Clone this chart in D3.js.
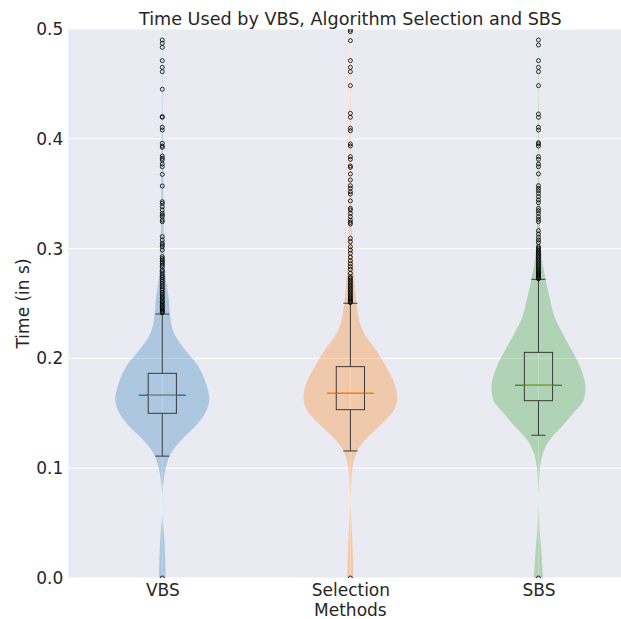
<!DOCTYPE html>
<html>
<head>
<meta charset="utf-8">
<script src="https://cdn.jsdelivr.net/npm/d3@7"></script>
<style>
  body { margin: 0; background: #fff; }
  text { font-family: "DejaVu Sans", sans-serif; fill: #262626; }
</style>
</head>
<body>
<div class="chart"></div>
<script>
// Data
//= ================================
var methods = ["VBS", "Selection", "SBS"];
var colors = ["#1f77b4", "#ff7f0e", "#2ca02c"];
var yTicks = [0.0, 0.1, 0.2, 0.3, 0.4, 0.5];

// box plot stats per method
var q1 = [0.150, 0.1533, 0.1615];
var medians = [0.1664, 0.1682, 0.1755];
var q3 = [0.1864, 0.1925, 0.2055];
var whiskerLo = [0.111, 0.1157, 0.130];
var whiskerHi = [0.2404, 0.2502, 0.272];

// violin outline: value -> relative half width
var vbsDensV = [0.000, 0.019, 0.041, 0.059, 0.077, 0.089, 0.101, 0.114, 0.126, 0.138, 0.150, 0.163, 0.177, 0.193, 0.208, 0.223, 0.241, 0.253, 0.262, 0.274, 0.299, 0.320, 0.360, 0.420, 0.500];
var vbsDensW = [0.07, 0.06, 0.035, 0.004, 0.005, 0.03, 0.08, 0.19, 0.41, 0.70, 0.91, 1.00, 0.93, 0.76, 0.48, 0.25, 0.16, 0.14, 0.11, 0.07, 0.04, 0.028, 0.02, 0.011, 0.005];
var selDensV = [0.000, 0.029, 0.053, 0.071, 0.092, 0.105, 0.117, 0.129, 0.141, 0.153, 0.165, 0.177, 0.193, 0.208, 0.223, 0.238, 0.250, 0.274, 0.299, 0.330, 0.380, 0.450, 0.500];
var selDensW = [0.064, 0.047, 0.018, 0.006, 0.025, 0.065, 0.16, 0.39, 0.68, 0.93, 1.00, 0.94, 0.75, 0.54, 0.29, 0.17, 0.13, 0.08, 0.04, 0.025, 0.015, 0.008, 0.004];
var sbsDensV = [0.000, 0.023, 0.047, 0.071, 0.086, 0.101, 0.114, 0.126, 0.138, 0.150, 0.162, 0.173, 0.193, 0.208, 0.223, 0.238, 0.253, 0.272, 0.296, 0.326, 0.380, 0.450, 0.500];
var sbsDensW = [0.096, 0.064, 0.02, 0.004, 0.01, 0.035, 0.10, 0.24, 0.50, 0.74, 0.96, 1.00, 0.88, 0.70, 0.51, 0.34, 0.25, 0.15, 0.06, 0.028, 0.015, 0.008, 0.004];

// fliers
var vbsOut = [0, 0.2415, 0.2422, 0.2431, 0.2440, 0.2452, 0.2463, 0.2470, 0.2484, 0.2495, 0.2508, 0.2517, 0.2531, 0.2546, 0.2558, 0.2570, 0.2587, 0.2601, 0.2618, 0.2633, 0.2652, 0.2668, 0.2685, 0.2702, 0.2718, 0.2735, 0.2749, 0.2768, 0.2790, 0.2805, 0.2835, 0.2849, 0.2866, 0.2880, 0.2896, 0.2910, 0.2926, 0.2987, 0.3017, 0.3033, 0.3048, 0.3078, 0.3109, 0.3245, 0.3260, 0.3291, 0.3305, 0.3321, 0.3352, 0.3382, 0.3412, 0.3427, 0.357, 0.3676, 0.3746, 0.377, 0.3807, 0.3822, 0.3843, 0.3922, 0.3934, 0.3959, 0.408, 0.4105, 0.4196, 0.4202, 0.4451, 0.4611, 0.4651, 0.4712, 0.4833, 0.487, 0.49];
var selOut = [0, 0.2508, 0.2515, 0.2524, 0.2533, 0.2545, 0.2556, 0.2568, 0.2580, 0.2594, 0.2605, 0.2619, 0.2632, 0.2646, 0.2660, 0.2672, 0.2688, 0.2700, 0.2716, 0.2730, 0.2744, 0.2775, 0.2811, 0.2835, 0.2862, 0.289, 0.2921, 0.2957, 0.2987, 0.3017, 0.3063, 0.3093, 0.3224, 0.3239, 0.326, 0.3291, 0.3321, 0.3352, 0.3367, 0.3434, 0.3497, 0.3518, 0.3549, 0.3573, 0.3625, 0.368, 0.374, 0.3752, 0.3813, 0.3837, 0.3934, 0.3953, 0.4074, 0.4096, 0.4196, 0.4232, 0.4484, 0.4611, 0.4651, 0.4712, 0.4894, 0.4976, 0.4991];
var sbsOut = [0, 0.2725, 0.2731, 0.2738, 0.2746, 0.2755, 0.2763, 0.2772, 0.2781, 0.2790, 0.2800, 0.2811, 0.2822, 0.2835, 0.2848, 0.2860, 0.2873, 0.2887, 0.2900, 0.2914, 0.2927, 0.2940, 0.2953, 0.2965, 0.2978, 0.2990, 0.3003, 0.3017, 0.3054, 0.3078, 0.3103, 0.3133, 0.3163, 0.3245, 0.3266, 0.3291, 0.3321, 0.3345, 0.3367, 0.3418, 0.3443, 0.3473, 0.3503, 0.3528, 0.3549, 0.3573, 0.368, 0.3746, 0.377, 0.3813, 0.3837, 0.3934, 0.3953, 0.3965, 0.408, 0.4105, 0.4196, 0.4226, 0.4484, 0.4611, 0.4651, 0.4712, 0.4854, 0.49];

var densV = [vbsDensV, selDensV, sbsDensV];
var densW = [vbsDensW, selDensW, sbsDensW];
var fliers = [vbsOut, selOut, sbsOut];

// Set up the chart
//= ================================
var svgWidth = 621;
var svgHeight = 619;

var plotLeft = 68.25;
var plotRight = 632.5; // axes run past the right edge of the picture
var plotTop = 29;
var plotBottom = 578;

var svg = d3
  .select(".chart")
  .append("svg")
  .attr("width", svgWidth)
  .attr("height", svgHeight);

var xScale = d3.scaleLinear().domain([0.5, 3.5]).range([plotLeft, plotRight]);
var yScale = d3.scaleLinear().domain([0, 0.5]).range([plotBottom, plotTop]);

svg.append("defs")
  .append("clipPath")
  .attr("id", "plot-clip")
  .append("rect")
  .attr("x", plotLeft)
  .attr("y", plotTop)
  .attr("width", plotRight - plotLeft)
  .attr("height", plotBottom - plotTop);

// background + grid
svg.append("rect")
  .attr("x", plotLeft)
  .attr("y", plotTop)
  .attr("width", plotRight - plotLeft)
  .attr("height", plotBottom - plotTop)
  .attr("fill", "#eaeaf2");

var grid = svg.append("g").attr("clip-path", "url(#plot-clip)");
grid.selectAll("line.h")
  .data(yTicks)
  .enter()
  .append("line")
  .attr("x1", plotLeft)
  .attr("x2", plotRight)
  .attr("y1", function(d) { return yScale(d); })
  .attr("y2", function(d) { return yScale(d); })
  .attr("stroke", "#fff")
  .attr("stroke-width", 1);
grid.selectAll("line.v")
  .data([1, 2, 3])
  .enter()
  .append("line")
  .attr("x1", function(d) { return xScale(d); })
  .attr("x2", function(d) { return xScale(d); })
  .attr("y1", plotTop)
  .attr("y2", plotBottom)
  .attr("stroke", "#fff")
  .attr("stroke-width", 1);

var chart = svg.append("g").attr("clip-path", "url(#plot-clip)");

var halfWidth = 0.25; // violin widths = 0.5
var boxHalf = 0.075;
var capHalf = 0.0375;

// violins
methods.forEach(function(m, i) {
  var pos = i + 1;
  var pts = densV[i].map(function(v, j) { return { v: v, w: densW[i][j] }; });

  var area = d3.area()
    .y(function(d) { return yScale(d.v); })
    .x0(function(d) { return xScale(pos - d.w * halfWidth); })
    .x1(function(d) { return xScale(pos + d.w * halfWidth); })
    .curve(d3.curveMonotoneY);

  chart.append("path")
    .datum(pts)
    .attr("d", area)
    .attr("fill", colors[i])
    .attr("fill-opacity", 0.3);

  // violin median line
  chart.append("line")
    .attr("x1", xScale(pos - halfWidth / 2))
    .attr("x2", xScale(pos + halfWidth / 2))
    .attr("y1", yScale(medians[i]))
    .attr("y2", yScale(medians[i]))
    .attr("stroke", colors[i])
    .attr("stroke-width", 1.5);
});

// box plots on top
methods.forEach(function(m, i) {
  var pos = i + 1;
  var g = chart.append("g").attr("stroke", "#3a3a3a").attr("stroke-width", 1).attr("fill", "none");

  g.append("rect")
    .attr("x", xScale(pos - boxHalf))
    .attr("y", yScale(q3[i]))
    .attr("width", xScale(pos + boxHalf) - xScale(pos - boxHalf))
    .attr("height", yScale(q1[i]) - yScale(q3[i]));

  [[q3[i], whiskerHi[i]], [q1[i], whiskerLo[i]]].forEach(function(pair) {
    g.append("line")
      .attr("x1", xScale(pos))
      .attr("x2", xScale(pos))
      .attr("y1", yScale(pair[0]))
      .attr("y2", yScale(pair[1]));
    g.append("line")
      .attr("x1", xScale(pos - capHalf))
      .attr("x2", xScale(pos + capHalf))
      .attr("y1", yScale(pair[1]))
      .attr("y2", yScale(pair[1]));
  });

  chart.append("line")
    .attr("x1", xScale(pos - boxHalf))
    .attr("x2", xScale(pos + boxHalf))
    .attr("y1", yScale(medians[i]))
    .attr("y2", yScale(medians[i]))
    .attr("stroke", "#ff7f0e")
    .attr("stroke-width", 1);

  chart.selectAll("circle.f" + i)
    .data(fliers[i])
    .enter()
    .append("circle")
    .attr("cx", xScale(pos))
    .attr("cy", function(d) { return yScale(d); })
    .attr("r", 2)
    .attr("fill", "none")
    .attr("stroke", "#000")
    .attr("stroke-width", 0.8);
});

// Axes
//= ================================
var leftAxis = d3.axisLeft(yScale)
  .tickValues(yTicks)
  .tickFormat(d3.format(".1f"))
  .tickSize(0)
  .tickPadding(5);

var bottomAxis = d3.axisBottom(xScale)
  .tickValues([1, 2, 3])
  .tickFormat(function(d) { return methods[d - 1]; })
  .tickSize(0)
  .tickPadding(6);

var yAxisG = svg.append("g")
  .attr("transform", "translate(" + plotLeft + ",0)")
  .call(leftAxis);
var xAxisG = svg.append("g")
  .attr("transform", "translate(0," + plotBottom + ")")
  .call(bottomAxis);

[yAxisG, xAxisG].forEach(function(a) {
  a.select(".domain").remove();
  a.selectAll("text")
    .style("font-family", "DejaVu Sans, sans-serif")
    .style("font-size", "17px")
    .attr("fill", "#262626");
});

// Labels
svg.append("text")
  .attr("x", xScale(2))
  .attr("y", 25)
  .attr("text-anchor", "middle")
  .style("font-size", "17.6px")
  .text("Time Used by VBS, Algorithm Selection and SBS");

svg.append("text")
  .attr("x", xScale(2))
  .attr("y", 616)
  .attr("text-anchor", "middle")
  .style("font-size", "17px")
  .text("Methods");

svg.append("text")
  .attr("transform", "translate(29," + (plotTop + plotBottom) / 2 + ") rotate(-90)")
  .attr("text-anchor", "middle")
  .style("font-size", "17px")
  .text("Time (in s)");
</script>
</body>
</html>
